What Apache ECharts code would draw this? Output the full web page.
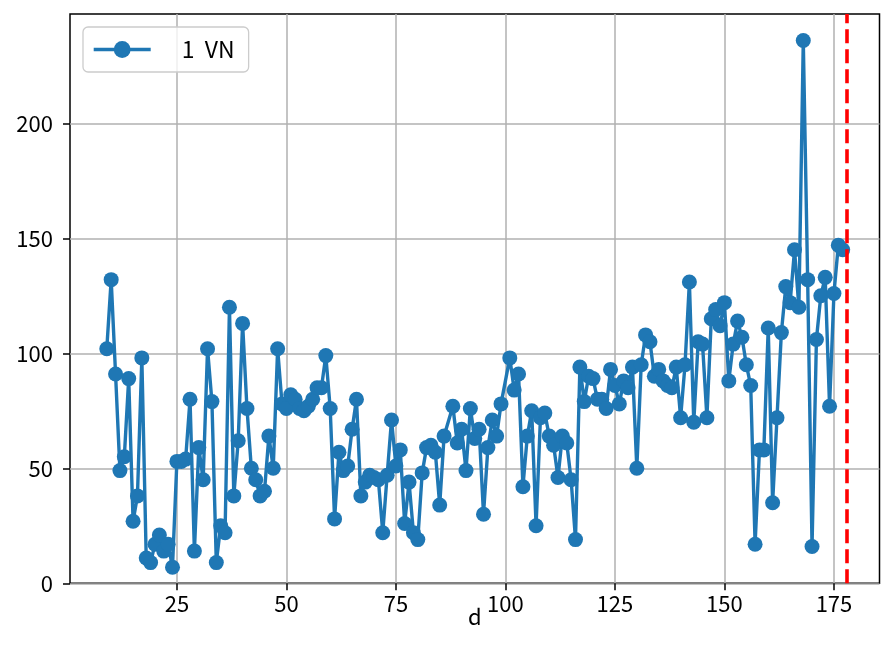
<!DOCTYPE html>
<html><head><meta charset="utf-8">
<script src="https://cdn.jsdelivr.net/npm/echarts@6/dist/echarts.min.js"></script>
<style>html,body{margin:0;padding:0;background:#fff}#c{width:881px;height:659px}</style>
</head><body><div id="c"></div>
<script>
const seriesName = '1  VN';
const xAxisName = 'd';
const days = [9,10,11,12,13,14,15,16,17,18,19,20,21,22,23,24,25,26,27,28,29,30,31,32,33,34,35,36,37,38,39,40,41,42,43,44,45,46,47,48,49,50,51,52,53,54,55,56,57,58,59,60,61,62,63,64,65,66,67,68,69,70,71,72,73,74,75,76,77,78,79,80,81,82,83,84,85,86,88,89,90,91,92,93,94,95,96,97,98,99,101,102,103,104,105,106,107,108,109,110,111,112,113,114,115,116,117,118,119,120,121,122,123,124,125,126,127,128,129,130,131,132,133,134,135,136,137,138,139,140,141,142,143,144,145,146,147,148,149,150,151,152,153,154,155,156,157,158,159,160,161,162,163,164,165,166,167,168,169,170,171,172,173,174,175,176,177];
const values = [102,132,91,49,55,89,27,38,98,11,9,17,21,14,17,7,53,53,54,80,14,59,45,102,79,9,25,22,120,38,62,113,76,50,45,38,40,64,50,102,78,76,82,80,76,75,77,80,85,85,99,76,28,57,49,51,67,80,38,44,47,46,45,22,47,71,51,58,26,44,22,19,48,59,60,57,34,64,77,61,67,49,76,63,67,30,59,71,64,78,98,84,91,42,64,75,25,72,74,64,60,46,64,61,45,19,94,79,90,89,80,80,76,93,86,78,88,85,94,50,95,108,105,90,93,88,86,85,94,72,95,131,70,105,104,72,115,119,112,122,88,104,114,107,95,86,17,58,58,111,35,72,109,129,122,145,120,236,132,16,106,125,133,77,126,147,145];
const xTicks = [25,50,75,100,125,150,175];
const yTicks = [0,50,100,150,200];
const cutoffDay = 178;
const xRange = [0.6, 185.4];
const yRange = [0, 247.5];

const FONT = '"Noto Sans CJK JP", "Noto Sans", sans-serif';
const points = days.map((d, i) => [d, values[i]]);
const chart = echarts.init(document.getElementById('c'), null, {renderer: 'canvas'});
chart.setOption({
  animation: false,
  backgroundColor: '#fff',
  textStyle: {fontFamily: FONT},
  grid: {left: 70, right: 1.5, top: 14, bottom: 75.7, show: true, borderColor: '#000', borderWidth: 1.5, backgroundColor: 'transparent'},
  legend: {
    left: 83, top: 27,
    padding: [11, 14, 11, 9],
    itemWidth: 57, itemHeight: 21,
    backgroundColor: 'rgba(255,255,255,0.8)',
    borderColor: '#cccccc', borderWidth: 1.3, borderRadius: 5,
    lineStyle: {width: 3.4},
    textStyle: {fontFamily: FONT, fontSize: 23, color: '#000', padding: [0, 0, 0, 26]},
    data: [seriesName]
  },
  xAxis: {
    type: 'value', min: xRange[0], max: xRange[1],
    name: xAxisName, nameLocation: 'middle', nameGap: 22, nameMoveOverlap: false,
    nameTextStyle: {fontFamily: FONT, fontSize: 22, color: '#000'},
    axisLine: {show: false},
    axisTick: {show: true, inside: false, length: 7, lineStyle: {color: '#000', width: 1.5}, customValues: xTicks},
    axisLabel: {fontFamily: FONT, fontSize: 22, color: '#000', margin: 9, customValues: xTicks},
    splitLine: {show: true, lineStyle: {color: '#b0b0b0', width: 1.5}}
  },
  yAxis: {
    type: 'value', min: yRange[0], max: yRange[1],
    axisLine: {show: false},
    axisTick: {show: true, inside: false, length: 7, lineStyle: {color: '#000', width: 1.5}, customValues: yTicks},
    axisLabel: {fontFamily: FONT, fontSize: 22, color: '#000', margin: 17, customValues: yTicks},
    splitLine: {show: true, lineStyle: {color: '#b0b0b0', width: 1.5}}
  },
  series: [{
    name: seriesName, type: 'line', data: points,
    symbol: 'circle', symbolSize: 15, showAllSymbol: true,
    lineStyle: {color: '#1f77b4', width: 3.4},
    itemStyle: {color: '#1f77b4'},
    emphasis: {disabled: true},
    markLine: {
      silent: true, symbol: ['none', 'none'], label: {show: false},
      lineStyle: {color: '#ff0000', width: 3.6, type: [14, 6]},
      data: [{xAxis: cutoffDay}]
    }
  }]
});
</script></body></html>
